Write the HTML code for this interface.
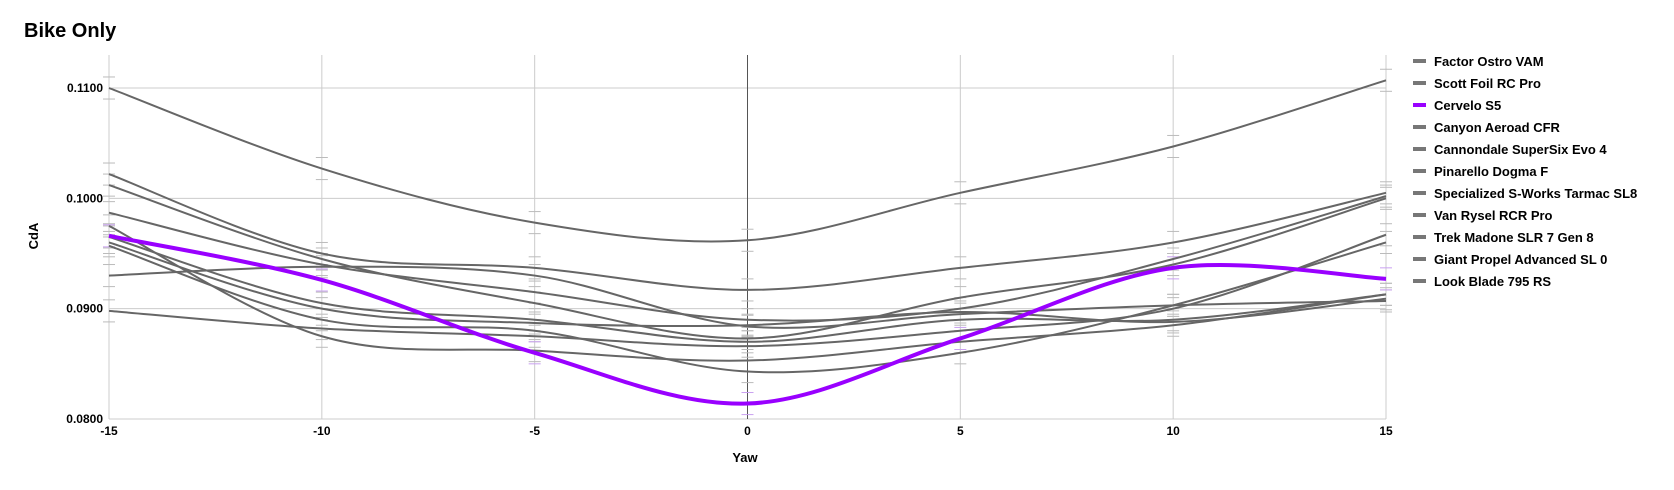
<!DOCTYPE html>
<html><head><meta charset="utf-8"><style>
body{margin:0;background:#fff;font-family:"Liberation Sans",Arial,sans-serif;}
svg text{font-family:"Liberation Sans",Arial,sans-serif;font-weight:bold;}
</style></head><body>
<svg id="chart" width="1674" height="485" xmlns="http://www.w3.org/2000/svg">
<text x="24" y="37" font-size="20" fill="#000">Bike Only</text>
<g id="grid"></g><g id="errs"></g><g id="lines"></g><g id="legend"></g>
<text x="745" y="462" font-size="13" text-anchor="middle">Yaw</text>
<text x="38" y="236" font-size="13" text-anchor="middle" transform="rotate(-90 38 236)">CdA</text>
</svg>
<script>
const yaws=[-15,-10,-5,0,5,10,15];
const yTicks=[0.08,0.09,0.10,0.11];
const yTickLabels=["0.0800","0.0900","0.1000","0.1100"];
const names=["Factor Ostro VAM","Scott Foil RC Pro","Cervelo S5","Canyon Aeroad CFR","Cannondale SuperSix Evo 4","Pinarello Dogma F","Specialized S-Works Tarmac SL8","Van Rysel RCR Pro","Trek Madone SLR 7 Gen 8","Giant Propel Advanced SL 0","Look Blade 795 RS"];
const s0=[0.1100,0.1027,0.0978,0.0962,0.1005,0.1047,0.1107];
const s1=[0.1022,0.0950,0.0937,0.0917,0.0937,0.0960,0.1005];
const s2=[0.0966,0.0926,0.0860,0.0814,0.0873,0.0937,0.0927];
const s3=[0.1012,0.0945,0.0905,0.0873,0.0910,0.0940,0.1000];
const s4=[0.0987,0.0940,0.0915,0.0890,0.0900,0.0945,0.1002];
const s5=[0.0930,0.0938,0.0930,0.0884,0.0895,0.0903,0.0907];
const s6=[0.0975,0.0875,0.0862,0.0853,0.0870,0.0885,0.0913];
const s7=[0.0898,0.0882,0.0875,0.0866,0.0880,0.0900,0.0967];
const s8=[0.0965,0.0905,0.0890,0.0870,0.0890,0.0890,0.0913];
const s9=[0.0960,0.0900,0.0887,0.0885,0.0897,0.0888,0.0909];
const s10=[0.0957,0.0890,0.0880,0.0843,0.0860,0.0903,0.0960];
const series=[s0,s1,s2,s3,s4,s5,s6,s7,s8,s9,s10];
const NS="http://www.w3.org/2000/svg";
const X0=109,X1=1386,YT=55,YB=419;
const xs=v=>X0+(v+15)/30*(X1-X0);
const ys=v=>YB-(v-0.08)/0.03*(YB-88);
function mk(tag,at,parent){const e=document.createElementNS(NS,tag);for(const k in at)e.setAttribute(k,at[k]);parent.appendChild(e);return e;}
const grid=document.getElementById('grid');
yTicks.forEach((t,i)=>{
 const l=mk('line',{x1:X0,x2:X1,y1:ys(t),y2:ys(t),stroke:'#ccc','stroke-width':1},grid);
 
 
 const tx=mk('text',{x:X0-6,y:ys(t)+4,'font-size':12,'text-anchor':'end'},grid);tx.textContent=yTickLabels[i];
 
 
});
yaws.forEach(v=>{
 const l=mk('line',{x1:xs(v),x2:xs(v),y1:YT,y2:YB,stroke:v===0?'#555':'#ccc','stroke-width':1},grid);
 
 
 const tx=mk('text',{x:xs(v),y:435,'font-size':12,'text-anchor':'middle'},grid);tx.textContent=String(v);
 
 
});
const errs=document.getElementById('errs'),lines=document.getElementById('lines'),leg=document.getElementById('legend');
function pathFor(arr){
 const p=arr.map((v,i)=>[xs(yaws[i]),ys(v)]);
 let d='M'+p[0][0]+','+p[0][1];
 for(let i=0;i<p.length-1;i++){
  const a=p[Math.max(0,i-1)],b=p[i],c=p[i+1],e=p[Math.min(p.length-1,i+2)];
  const c1=[b[0]+(c[0]-a[0])/6,b[1]+(c[1]-a[1])/6],c2=[c[0]-(e[0]-b[0])/6,c[1]-(e[1]-b[1])/6];
  d+=' C'+c1+' '+c2+' '+c;
 }
 return d;
}
const order=[0,1,3,4,5,6,7,8,9,10,2];
order.forEach(si=>{
 const arr=series[si],hl=si===2;
 arr.forEach((v,i)=>{
  [0.001,-0.001].forEach(o=>{
   const t=mk('line',{x1:xs(yaws[i])-6,x2:xs(yaws[i])+6,y1:ys(v+o),y2:ys(v+o),stroke:hl?'#c9a0f0':'#bbb','stroke-width':1},errs);
   
   
  });
 });
 const p=mk('path',{d:pathFor(arr),fill:'none',stroke:hl?'#9900ff':'#666','stroke-width':hl?4:2},lines);
 
 
});
names.forEach((n,i)=>{
 const y=61+i*22;
 const g=mk('g',{},leg);
 
 
 mk('rect',{x:1413,y:y-2,width:13,height:4,fill:i===2?'#9900ff':'#777'},g);
 const t=mk('text',{x:1434,y:y+5,'font-size':13},g);t.textContent=n;
});
</script>
</body></html>
